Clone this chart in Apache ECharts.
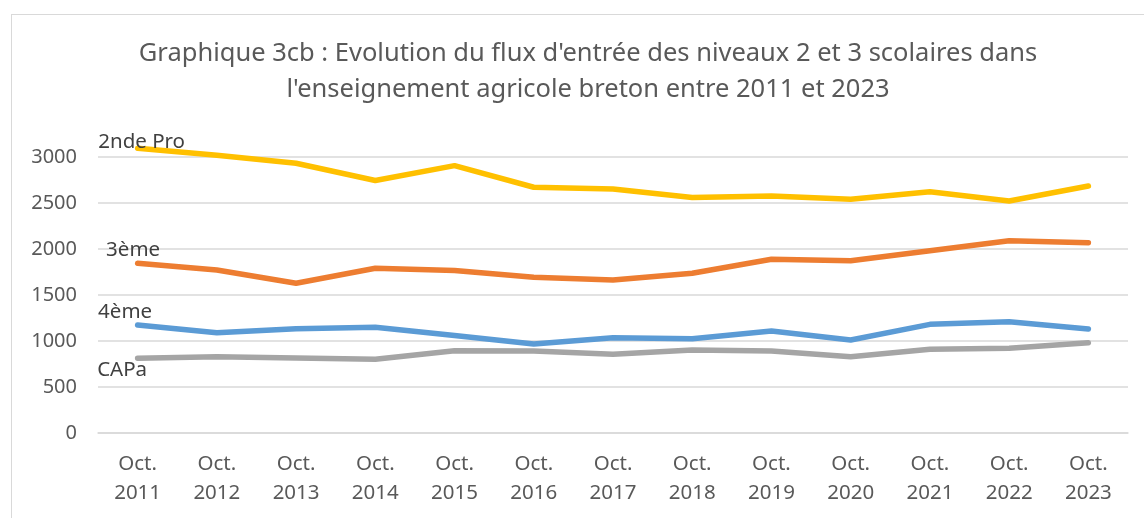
<!DOCTYPE html>
<html>
<head>
<meta charset="utf-8">
<script src="https://cdn.jsdelivr.net/npm/echarts@6/dist/echarts.min.js"></script>
<style>
  html, body { margin: 0; padding: 0; background: #fff; }
  #wrap { position: relative; width: 1144px; height: 518px; overflow: hidden; background: #fff; }
  #frame { position: absolute; left: 11px; top: 14px; width: 1150px; height: 520px; border: 1.5px solid #d9d9d9; box-sizing: border-box; }
  #chart { position: absolute; left: 0; top: 0; width: 1144px; height: 518px; }
</style>
</head>
<body>
<div id="wrap">
  <div id="frame"></div>
  <div id="chart"></div>
</div>
<script>
const titleText = "Graphique 3cb : Evolution du flux d'entrée des niveaux 2 et 3 scolaires dans\nl'enseignement agricole breton entre 2011 et 2023";
const years = ["2011","2012","2013","2014","2015","2016","2017","2018","2019","2020","2021","2022","2023"];
const categories = years.map(y => "Oct.\n" + y);
const seriesNames = ["2nde Pro", "3ème", "4ème", "CAPa"];
const secondePro = [3095, 3020, 2932, 2745, 2906, 2671, 2652, 2560, 2576, 2540, 2623, 2522, 2685];
const troisieme  = [1845, 1772, 1627, 1790, 1766, 1692, 1663, 1736, 1888, 1873, 1982, 2090, 2069];
const quatrieme  = [1174, 1090, 1134, 1149, 1060, 967, 1036, 1025, 1109, 1011, 1181, 1210, 1130];
const capa       = [812, 829, 815, 801, 895, 891, 855, 902, 891, 829, 910, 920, 982];
const yTicks = { min: 0, max: 3000, interval: 500 };

const colors = ["#FFC000", "#ED7D31", "#5B9BD5", "#A5A5A5"];
const labelOffsets = [[4, -6], [-4.5, -13], [-12.5, -13], [-15.5, 12]];
const FONT = "Noto Sans";

function build(name, values, idx) {
  return {
    name: name,
    type: "line",
    clip: false,
    showSymbol: true,
    symbol: "circle",
    symbolSize: 0,
    itemStyle: { color: colors[idx] },
    lineStyle: { color: colors[idx], width: 5.5, cap: "round", join: "round" },
    emphasis: { disabled: true },
    labelLayout: { hideOverlap: false },
    data: values.map((v, i) => i === 0 ? {
      value: v,
      label: {
        show: true, position: labelOffsets[idx], align: "center", verticalAlign: "middle",
        formatter: name, color: "#404040", fontFamily: FONT, fontSize: 20.5
      }
    } : v),
    z: 10 - idx
  };
}

const chart = echarts.init(document.getElementById("chart"), null, { renderer: "canvas" });
chart.setOption({
  animation: false,
  backgroundColor: "transparent",
  title: {
    text: titleText,
    left: 583,
    textAlign: "center",
    top: 31,
    textStyle: { fontFamily: FONT, fontSize: 25.5, fontWeight: "normal", color: "#595959", lineHeight: 36, align: "center" }
  },
  grid: { left: 98, right: 16, top: 157, bottom: 85, containLabel: false },
  xAxis: {
    type: "category",
    data: categories,
    boundaryGap: true,
    axisLine: { lineStyle: { color: "#d9d9d9", width: 1.5 } },
    axisTick: { show: false },
    axisLabel: { color: "#595959", fontFamily: FONT, fontSize: 20.5, lineHeight: 29, margin: 17, interval: 0 }
  },
  yAxis: {
    type: "value",
    min: yTicks.min, max: yTicks.max, interval: yTicks.interval,
    axisLine: { show: false },
    axisTick: { show: false },
    splitLine: { lineStyle: { color: "#d9d9d9", width: 1.5 } },
    axisLabel: { color: "#595959", fontFamily: FONT, fontSize: 20, margin: 21, formatter: v => String(v) }
  },
  series: [
    build(seriesNames[0], secondePro, 0),
    build(seriesNames[1], troisieme, 1),
    build(seriesNames[2], quatrieme, 2),
    build(seriesNames[3], capa, 3)
  ]
});
</script>
</body>
</html>
